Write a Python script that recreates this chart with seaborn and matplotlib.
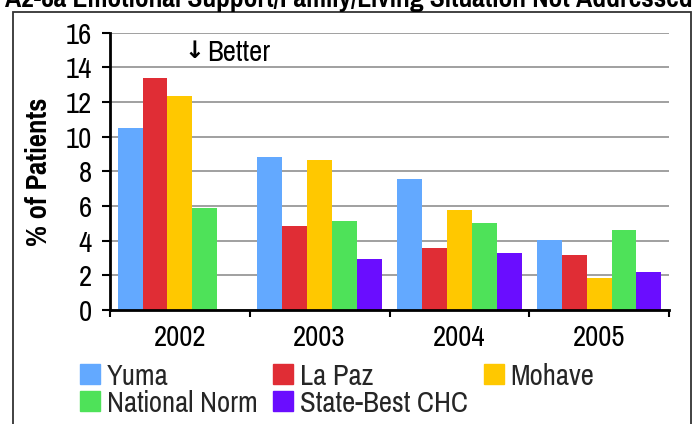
import pandas as pd
import matplotlib.pyplot as plt
import matplotlib.patches as mpatches
import seaborn as sns
import numpy as np

sns.set_theme(style="white")
plt.rcParams["font.family"] = ["Pragati Narrow", "DejaVu Sans"]

years = ["2002", "2003", "2004", "2005"]
series = ["Yuma", "La Paz", "Mohave", "National Norm", "State-Best CHC"]
yuma = [10.5, 8.83, 7.55, 4.03]
la_paz = [13.4, 4.84, 3.57, 3.17]
mohave = [12.33, 8.64, 5.76, 1.86]
national_norm = [5.9, 5.13, 5.01, 4.61]
state_best = [np.nan, 2.94, 3.28, 2.19]
colors = ["#63A9FF", "#E02D35", "#FFC800", "#4EE259", "#6A0DFF"]

title = "A2-8a Emotional Support/Family/Living Situation Not Addressed"

rows = []
for name, vals in zip(series, [yuma, la_paz, mohave, national_norm, state_best]):
    for yr, v in zip(years, vals):
        rows.append({"year": yr, "series": name, "value": v})
df = pd.DataFrame(rows)

W, H = 698, 424
FS = 22.5
fig = plt.figure(figsize=(W / 100, H / 100), dpi=100)
ax = fig.add_axes([110 / W, 1 - 310 / H, 559 / W, 277.3 / H])

sns.barplot(data=df, x="year", y="value", hue="series", hue_order=series,
            palette=colors, saturation=1, width=0.89, errorbar=None,
            linewidth=0, ax=ax, zorder=3)

ax.set_xlim(-0.5, 3.5)
ax.set_ylim(0, 16)
ax.set_yticks(range(0, 17, 2))
ax.grid(True, axis="y", color="#A0A0A0", lw=1.4, zorder=0)
ax.set_axisbelow(True)
for s in ["top", "right"]:
    ax.spines[s].set_visible(False)
for s in ["left", "bottom"]:
    ax.spines[s].set_color("black")
    ax.spines[s].set_linewidth(2)
    ax.spines[s].set_zorder(5)

ax.tick_params(axis="y", left=True, length=6, width=1.5, color="black",
               labelsize=FS, pad=7, labelcolor="black")
ax.tick_params(axis="x", which="major", length=0, labelsize=FS, pad=10,
               labelcolor="black")
ax.set_xticks(np.arange(-0.5, 4, 1), minor=True)
ax.tick_params(axis="x", which="minor", bottom=True, length=5, width=1.5,
               color="black")
ax.set_xlabel("")
ax.set_ylabel("")

# arrow + label drawn as two texts so the arrow can be heavier
ax.text(0.134, 0.935, "\u2193", transform=ax.transAxes, ha="left",
        va="center", fontsize=17, fontweight="bold", color="black",
        family="DejaVu Sans")
ax.text(0.174, 0.93, "Better", transform=ax.transAxes, ha="left",
        va="center", fontsize=FS, color="black")

fig.text(39 / W, 1 - 172 / H, "% of Patients", rotation=90, ha="center",
         va="center", fontsize=22.5, fontweight="bold", color="black")

fig.text(0.5, 1 - 7 / H, title, ha="center", va="baseline", fontsize=21.5,
         fontweight="bold", color="black")

fig.add_artist(mpatches.Rectangle((12.5 / W, -0.1), (690.7 - 12.5) / W,
                                  1.1 - 12.3 / H, transform=fig.transFigure,
                                  fill=False, edgecolor="#333333", lw=1.3,
                                  clip_on=False))

if ax.get_legend():
    ax.get_legend().remove()
handles = [mpatches.Patch(color=c, label=s) for s, c in zip(series, colors)]
order = [0, 3, 1, 4, 2]
fig.legend([handles[i] for i in order], [series[i] for i in order], ncol=3,
           loc="upper left", bbox_to_anchor=(80 / W, 1 - 363 / H),
           frameon=False, fontsize=FS, borderpad=0, borderaxespad=0,
           handlelength=0.64, handleheight=0.64, handletextpad=0.22,
           columnspacing=0.5, labelspacing=0.0)

fig.savefig("out.png", dpi=100)
